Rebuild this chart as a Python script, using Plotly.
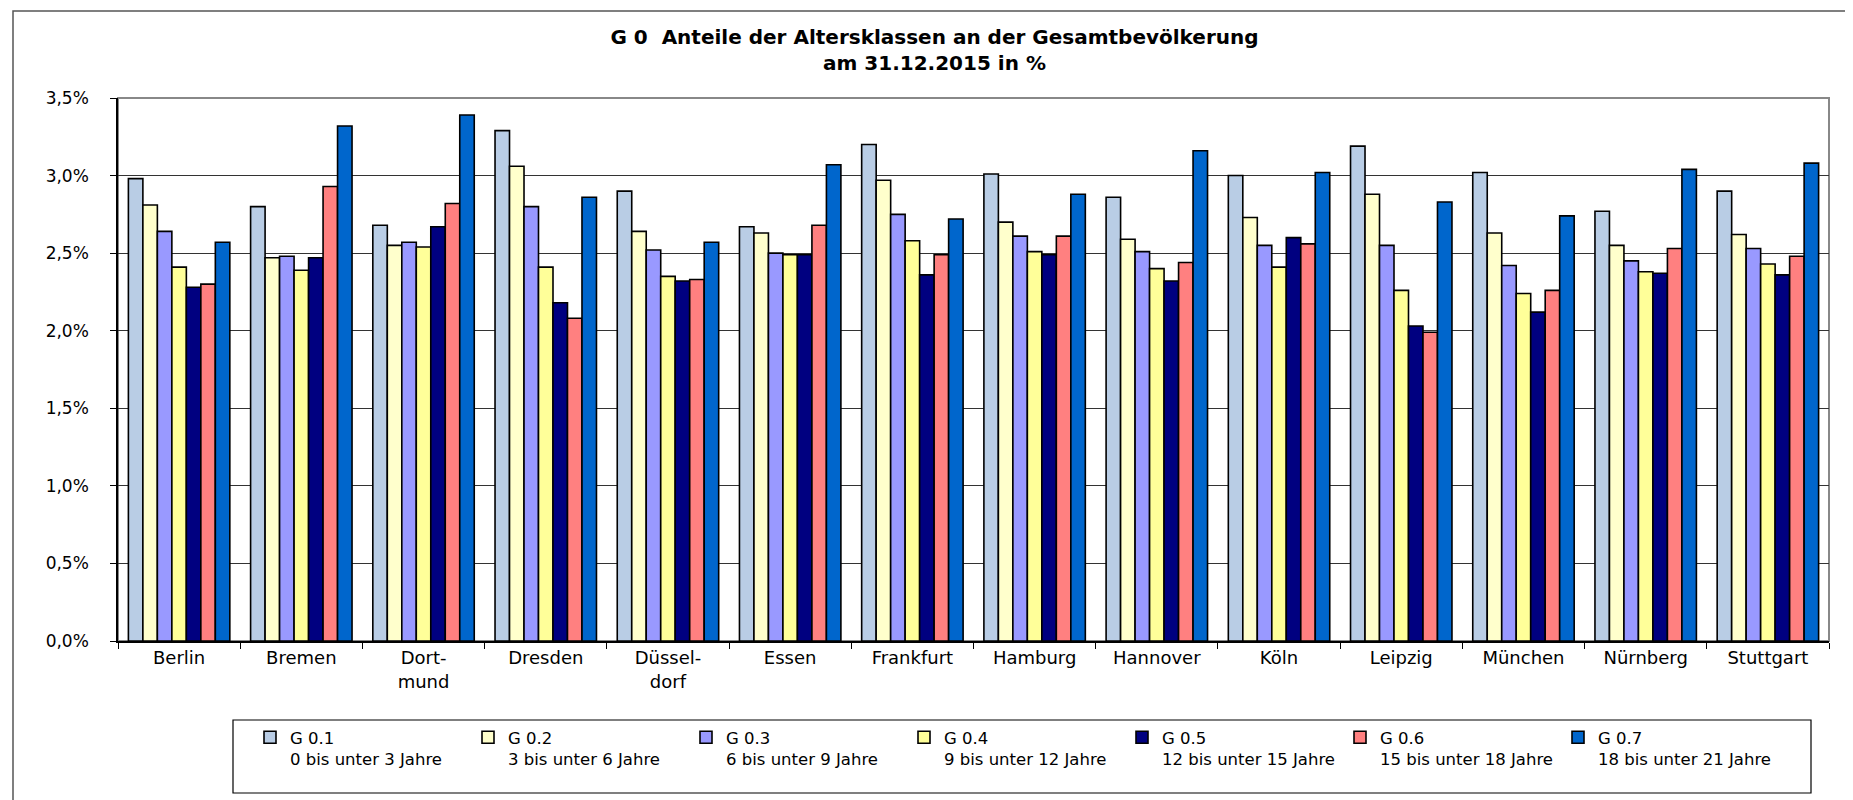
import plotly.graph_objects as go

cities = ["Berlin", "Bremen", "Dort-<br>mund", "Dresden", "Düssel-<br>dorf", "Essen", "Frankfurt",
          "Hamburg", "Hannover", "Köln", "Leipzig", "München", "Nürnberg", "Stuttgart"]

series_names = [
    "G 0.1<br>0 bis unter 3 Jahre",
    "G 0.2<br>3 bis unter 6 Jahre",
    "G 0.3<br>6 bis unter 9 Jahre",
    "G 0.4<br>9 bis unter 12 Jahre",
    "G 0.5<br>12 bis unter 15 Jahre",
    "G 0.6<br>15 bis unter 18 Jahre",
    "G 0.7<br>18 bis unter 21 Jahre",
]

g01 = [2.98, 2.80, 2.68, 3.29, 2.90, 2.67, 3.20, 3.01, 2.86, 3.00, 3.19, 3.02, 2.77, 2.90]
g02 = [2.81, 2.47, 2.55, 3.06, 2.64, 2.63, 2.97, 2.70, 2.59, 2.73, 2.88, 2.63, 2.55, 2.62]
g03 = [2.64, 2.48, 2.57, 2.80, 2.52, 2.50, 2.75, 2.61, 2.51, 2.55, 2.55, 2.42, 2.45, 2.53]
g04 = [2.41, 2.39, 2.54, 2.41, 2.35, 2.49, 2.58, 2.51, 2.40, 2.41, 2.26, 2.24, 2.38, 2.43]
g05 = [2.28, 2.47, 2.67, 2.18, 2.32, 2.49, 2.36, 2.49, 2.32, 2.60, 2.03, 2.12, 2.37, 2.36]
g06 = [2.30, 2.93, 2.82, 2.08, 2.33, 2.68, 2.49, 2.61, 2.44, 2.56, 1.99, 2.26, 2.53, 2.48]
g07 = [2.57, 3.32, 3.39, 2.86, 2.57, 3.07, 2.72, 2.88, 3.16, 3.02, 2.83, 2.74, 3.04, 3.08]

series_values = [g01, g02, g03, g04, g05, g06, g07]
colors = ["#B9CDE5", "#FFFFCC", "#9999FF", "#FFFF99", "#000080", "#FF8080", "#0066CC"]

fig = go.Figure()
for name, vals, col in zip(series_names, series_values, colors):
    fig.add_trace(go.Bar(
        x=cities, y=vals, name=name,
        marker=dict(color=col, line=dict(color="black", width=1.6)),
    ))

W, H = 1853, 800
L, R, T, B = 110, 32, 90, 167
pw, ph = W - L - R, H - T - B

def px_x(p):
    return (p - L) / pw

def px_y(p):
    return (H - B - p) / ph

fig.update_layout(
    width=W, height=H,
    margin=dict(l=L, r=R, t=T, b=B),
    paper_bgcolor="white", plot_bgcolor="white",
    barmode="group", bargap=0.17, bargroupgap=0,
    separators=",.",
    font=dict(family="DejaVu Sans", size=16, color="black"),
    title=dict(
        text="<b>G 0  Anteile der Altersklassen an der Gesamtbevölkerung<br>am 31.12.2015 in %</b>",
        x=0.5, xref="container", xanchor="center",
        y=1 - 36 / H, yref="container", yanchor="middle",
        font=dict(family="DejaVu Sans", size=20, color="black"),
    ),
    xaxis=dict(
        showline=True, linecolor="black", linewidth=1.5,
        ticks="outside", tickson="boundaries", ticklen=6, tickcolor="black", tickwidth=1.2,
        tickfont=dict(size=18), showgrid=False,
    ),
    yaxis=dict(
        range=[0, 3.5], dtick=0.5, tick0=0,
        tickformat=".1f", ticksuffix="%",
        showline=True, linecolor="black", linewidth=1.5,
        ticks="outside", ticklen=6, tickcolor="black", tickwidth=1.2,
        showgrid=True, gridcolor="#333333", gridwidth=1,
        zeroline=False, tickfont=dict(size=17), ticklabelstandoff=18,
    ),
    legend=dict(
        orientation="h", x=px_x(242), xanchor="left", y=px_y(712), yanchor="top",
        borderwidth=0, bgcolor="rgba(0,0,0,0)",
        font=dict(size=16.5), valign="top",
        entrywidth=173, entrywidthmode="pixels",
        traceorder="normal", itemwidth=30,
    ),
    shapes=[
        dict(type="rect", xref="paper", yref="paper", x0=0, x1=1, y0=0, y1=1,
             line=dict(color="#888888", width=2), layer="below"),
        dict(type="rect", xref="paper", yref="paper",
             x0=px_x(5), x1=px_x(1870), y0=px_y(820), y1=px_y(3),
             line=dict(color="#555555", width=1.5), layer="below"),
        dict(type="rect", xref="paper", yref="paper",
             x0=px_x(225), x1=px_x(1803), y0=px_y(785), y1=px_y(712),
             line=dict(color="black", width=1.2), layer="below"),
    ],
)

fig.write_html("out.html")
